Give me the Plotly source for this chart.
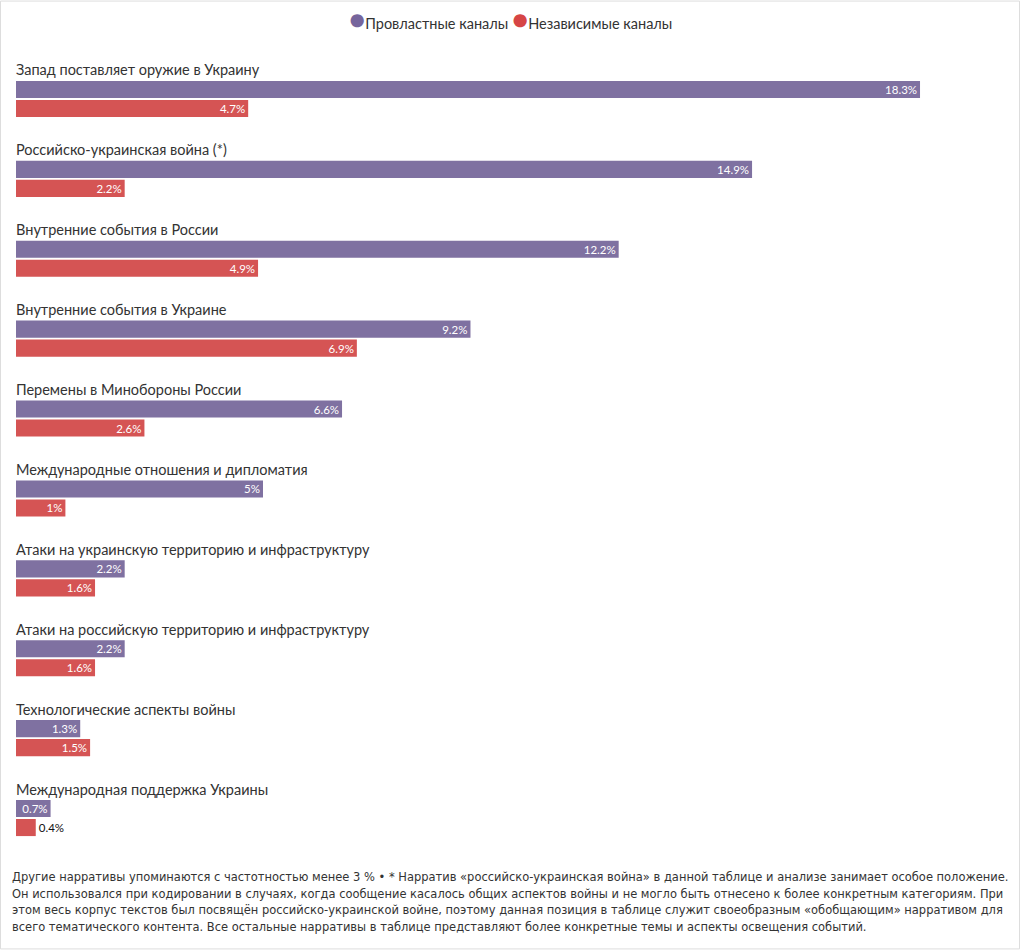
import plotly.graph_objects as go

categories = [
    "Запад поставляет оружие в Украину",
    "Российско-украинская война (*)",
    "Внутренние события в России",
    "Внутренние события в Украине",
    "Перемены в Минобороны России",
    "Международные отношения и дипломатия",
    "Атаки на украинскую территорию и инфраструктуру",
    "Атаки на российскую территорию и инфраструктуру",
    "Технологические аспекты войны",
    "Международная поддержка Украины",
]
pro_gov = [18.3, 14.9, 12.2, 9.2, 6.6, 5.0, 2.2, 2.2, 1.3, 0.7]
independent = [4.7, 2.2, 4.9, 6.9, 2.6, 1.0, 1.6, 1.6, 1.5, 0.4]
series_names = ["Провластные каналы", "Независимые каналы"]
colors = ["#7F71A1", "#D55454"]
legend_colors = ["#76659C", "#D64545"]

footer = ("Другие нарративы упоминаются с частотностью менее 3 % • * Нарратив «российско-украинская война» в данной таблице и анализе занимает особое положение.<br>"
          "Он использовался при кодировании в случаях, когда сообщение касалось общих аспектов войны и не могло быть отнесено к более конкретным категориям. При<br>"
          "этом весь корпус текстов был посвящён российско-украинской войне, поэтому данная позиция в таблице служит своеобразным «обобщающим» нарративом для<br>"
          "всего тематического контента. Все остальные нарративы в таблице представляют более конкретные темы и аспекты освещения событий.")

FONT = "Source Sans Pro, Lato, Noto Sans, sans-serif"


def fmt(v):
    return f"{v:g}%"


fig = go.Figure()
for vals, name, col in zip([pro_gov, independent], series_names, colors):
    fig.add_trace(go.Bar(
        y=categories, x=vals, orientation="h", name=name,
        marker=dict(color=col, line=dict(width=0)),
        text=[fmt(v) for v in vals], textposition="auto",
        insidetextanchor="end", constraintext="none",
        insidetextfont=dict(color="white", size=11.5, family=FONT),
        outsidetextfont=dict(color="#111111", size=11.5, family=FONT),
        showlegend=False, hoverinfo="skip", cliponaxis=False,
    ))

for cat in categories:
    fig.add_annotation(
        x=0, y=cat, xref="x", yref="y", text=cat, showarrow=False,
        xanchor="left", yanchor="middle", yshift=29, xshift=-2,
        font=dict(size=14.5, color="#333333", family=FONT),
    )

legend_html = " ".join(
    f"<span style='font-size:27px;color:{c}'>●</span>{n}"
    for n, c in zip(series_names, legend_colors)
)
fig.add_annotation(
    x=0.5, y=1 + 40.5 / 800, xref="paper", yref="paper", text=legend_html,
    showarrow=False, xanchor="center", yanchor="middle",
    font=dict(size=14.5, color="#333333", family=FONT),
)

fig.add_annotation(
    x=-6 / 988, y=-9 / 800, xref="paper", yref="paper", text=footer,
    showarrow=False, xanchor="left", yanchor="top", align="left",
    font=dict(size=12.75, color="#333333",
              family="DejaVu Sans Condensed, " + FONT),
)

fig.add_shape(type="rect", xref="paper", yref="paper",
              x0=-16 / 988 + 0.0005, x1=1 + 16 / 988 - 0.0005,
              y0=-91.5 / 800 + 0.0006, y1=1 + 58.5 / 800 - 0.0006,
              line=dict(color="#DDDDDD", width=1), layer="below")

fig.update_layout(
    width=1020, height=950,
    margin=dict(l=16, r=16, t=58.5, b=91.5),
    barmode="group", bargap=0.525, bargroupgap=0.1,
    paper_bgcolor="white", plot_bgcolor="white",
    font=dict(family=FONT, color="#333333"),
    xaxis=dict(range=[0, 20], visible=False, fixedrange=True),
    yaxis=dict(autorange="reversed", visible=False, fixedrange=True),
    showlegend=False,
)

fig.write_html("out.html", config={"displayModeBar": False},
               post_script="document.body.style.margin='0';")
